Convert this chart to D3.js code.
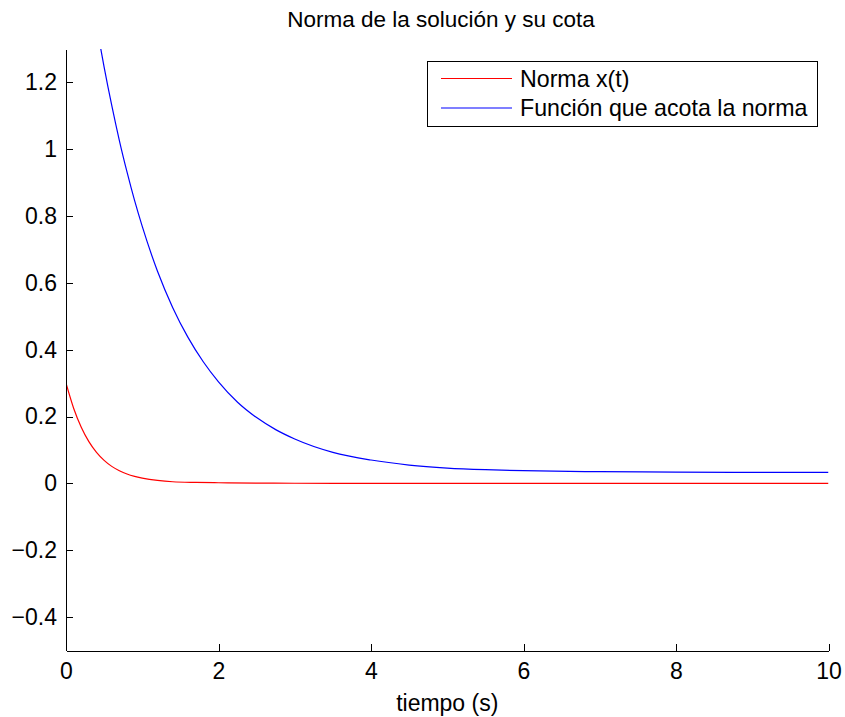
<!DOCTYPE html>
<html>
<head>
<meta charset="utf-8">
<script src="https://cdn.jsdelivr.net/npm/d3@7"></script>
<style>
  body { margin: 0; background: #fff; }
  svg { font-family: "Liberation Sans", Arial, sans-serif; }
  .axis path, .axis line { stroke: #000; shape-rendering: crispEdges; }
  .axis text { font-size: 23px; fill: #000; }
</style>
</head>
<body>
<div id="chart"></div>
<script>
// Norma x(t)
var normT = [0, 0.1, 0.2, 0.3, 0.4, 0.5, 0.6, 0.7, 0.8, 0.9, 1.0, 1.2, 1.4, 1.7, 2, 2.5, 3, 4, 10];
var normV = [0.30, 0.225, 0.168, 0.125, 0.093, 0.069, 0.051, 0.038, 0.028, 0.021, 0.016, 0.009, 0.005, 0.003, 0.002, 0.001, 0.0005, 0.0002, 0];

// bound function (enters the axes at t ~ 0.45)
var boundT = [0.45, 0.5, 0.6, 0.7, 0.8, 0.9, 1.0, 1.2, 1.4, 1.6, 1.8, 2.0, 2.25, 2.5, 2.75, 3.0, 3.5, 4.0, 4.5, 5.0, 5.5, 6.0, 7.0, 8.0, 9.0, 10];
var boundV = [1.308, 1.246, 1.131, 1.026, 0.932, 0.846, 0.769, 0.635, 0.526, 0.437, 0.364, 0.304, 0.243, 0.197, 0.161, 0.133, 0.093, 0.070, 0.055, 0.046, 0.041, 0.038, 0.035, 0.034, 0.033, 0.033];

var xTicks = [0, 2, 4, 6, 8, 10];
var xTickLabels = ["0", "2", "4", "6", "8", "10"];
var yTicks = [-0.4, -0.2, 0, 0.2, 0.4, 0.6, 0.8, 1, 1.2];
var yTickLabels = ["\u22120.4", "\u22120.2", "0", "0.2", "0.4", "0.6", "0.8", "1", "1.2"];

var seriesNames = ["Norma x(t)", "Funci\u00f3n que acota la norma"];
var seriesColors = ["#ff0000", "#0000ff"];

var W = 845, H = 717;
var margin = { top: 49, right: 16.5, bottom: 66.5, left: 66 };
var width = W - margin.left - margin.right;
var height = H - margin.top - margin.bottom;

var svg = d3.select("#chart").append("svg")
    .attr("width", W)
    .attr("height", H);

var g = svg.append("g")
    .attr("transform", "translate(" + margin.left + "," + margin.top + ")");

var x = d3.scaleLinear().domain([0, 10]).range([0, width]);
var y = d3.scaleLinear().domain([-0.5, 1.3]).range([height, 0]);

g.append("clipPath").attr("id", "clip")
    .append("rect").attr("width", width).attr("height", height);

var line = d3.line()
    .x(function (d) { return x(d[0]); })
    .y(function (d) { return y(d[1]); })
    .curve(d3.curveMonotoneX);

var series = [
    d3.zip(normT, normV),
    d3.zip(boundT, boundV)
];

series.forEach(function (s, i) {
    g.append("path")
        .datum(s)
        .attr("clip-path", "url(#clip)")
        .attr("fill", "none")
        .attr("stroke", seriesColors[i])
        .attr("stroke-width", 1.2)
        .attr("d", line);
});

// Axes, ticks pointing inward like MATLAB
g.append("g")
    .attr("class", "axis x-axis")
    .attr("transform", "translate(0," + height + ")")
    .call(d3.axisBottom(x)
        .tickValues(xTicks)
        .tickFormat(function (d, i) { return xTickLabels[i]; })
        .tickSizeInner(-7).tickSizeOuter(0).tickPadding(12));

g.append("g")
    .attr("class", "axis y-axis")
    .call(d3.axisLeft(y)
        .tickValues(yTicks)
        .tickFormat(function (d, i) { return yTickLabels[i]; })
        .tickSizeInner(-7).tickSizeOuter(0).tickPadding(9));

// Title and x label
svg.append("text")
    .attr("x", 441)
    .attr("y", 27)
    .attr("text-anchor", "middle")
    .attr("font-size", "22.5px")
    .text("Norma de la soluci\u00f3n y su cota");

svg.append("text")
    .attr("x", margin.left + width / 2)
    .attr("y", 711)
    .attr("text-anchor", "middle")
    .attr("font-size", "23px")
    .text("tiempo (s)");

// Legend
var legend = svg.append("g").attr("transform", "translate(427,61)");
legend.append("rect")
    .attr("width", 390).attr("height", 65)
    .attr("fill", "#fff").attr("stroke", "#000").attr("stroke-width", 1)
    .attr("shape-rendering", "crispEdges");

seriesNames.forEach(function (name, i) {
    var ly = 17.5 + i * 29.5;
    legend.append("line")
        .attr("x1", 14).attr("x2", 85)
        .attr("y1", ly).attr("y2", ly)
        .attr("stroke", seriesColors[i]).attr("stroke-width", 1.2);
    legend.append("text")
        .attr("x", 93).attr("y", ly)
        .attr("dy", "0.35em")
        .attr("font-size", "23.2px")
        .text(name);
});
</script>
</body>
</html>
